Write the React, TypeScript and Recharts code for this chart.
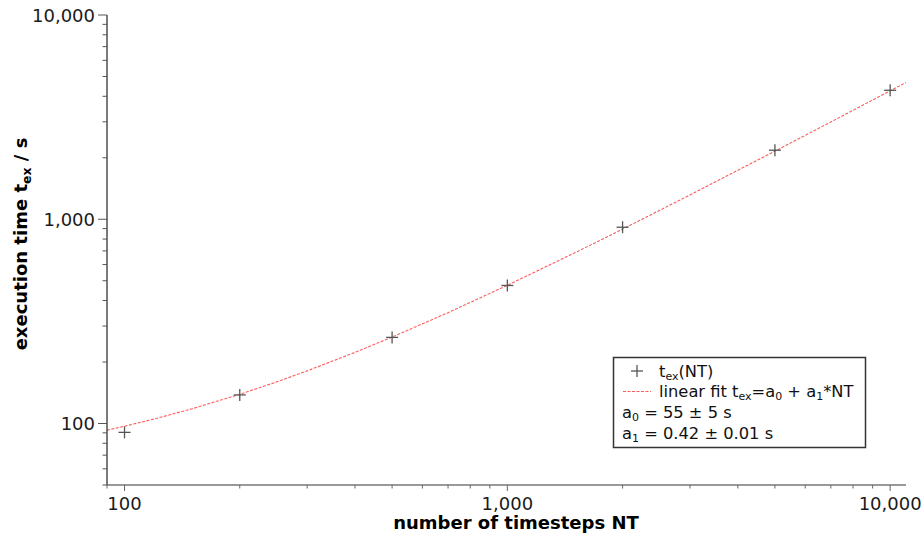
import React from "react";
import { ComposedChart, XAxis, YAxis, Line, Scatter } from "recharts";

// measured execution times t_ex(NT)
const measuredNT = [100, 200, 500, 1000, 2000, 5000, 10000];
const measuredT = [90.5, 138, 264, 474, 914, 2178, 4280];

// linear fit curve
const fitNT = [90, 100, 120, 150, 200, 250, 300, 400, 500, 700, 1000, 1500, 2000, 3000, 5000, 7000, 10000, 11000];
const fitT = [92.8, 97, 105.4, 118, 139, 160, 181, 223, 265, 349, 475, 685, 895, 1315, 2155, 2995, 4255, 4675];

const xTicks = [90, 100, 200, 300, 400, 500, 600, 700, 800, 900, 1000, 2000, 3000, 4000, 5000, 6000, 7000, 8000, 9000, 10000];
const yTicks = [50, 60, 70, 80, 90, 100, 200, 300, 400, 500, 600, 700, 800, 900, 1000, 2000, 3000, 4000, 5000, 6000, 7000, 8000, 9000, 10000];
const majorTicks = [100, 1000, 10000];

const measured = measuredNT.map((nt, i) => ({ nt, t: measuredT[i] }));
const fitData = fitNT.map((nt, i) => ({ nt, t: fitT[i] }));

const FONT = "'DejaVu Sans', sans-serif";
const fmt = (v: number) => v.toLocaleString("en-US");
const RED = "#ff5c5c";

const XTick = (props: any) => {
  const { x, y, payload } = props;
  const major = majorTicks.includes(payload.value);
  return (
    <g>
      <line x1={x} x2={x} y1={y} y2={y + (major ? 6 : 3.5)} stroke="#666" strokeWidth={1} />
      {major && (
        <text x={x} y={y + 25} textAnchor="middle" fontSize={18} fill="#1a1a1a" fontFamily={FONT}>
          {fmt(payload.value)}
        </text>
      )}
    </g>
  );
};

const YTick = (props: any) => {
  const { x, y, payload } = props;
  const major = majorTicks.includes(payload.value);
  return (
    <g>
      <line x1={x - (major ? 9 : 4.5)} x2={x} y1={y} y2={y} stroke="#555" strokeWidth={1} />
      {major && (
        <text x={x - 12} y={y + 6.5} textAnchor="end" fontSize={18} fill="#1a1a1a" fontFamily={FONT}>
          {fmt(payload.value)}
        </text>
      )}
    </g>
  );
};

const Cross = (props: any) => {
  const { cx, cy } = props;
  if (cx == null || cy == null) return <g />;
  return (
    <g>
      <line x1={cx - 6} x2={cx + 6} y1={cy} y2={cy} stroke="#555" strokeWidth={1.3} />
      <line x1={cx} x2={cx} y1={cy - 6} y2={cy + 6} stroke="#555" strokeWidth={1.3} />
    </g>
  );
};

const XLabel = () => (
  <text x={516} y={529} textAnchor="middle" fontSize={18} fontWeight="bold" fill="#000" fontFamily={FONT}>
    number of timesteps NT
  </text>
);

const YLabel = () => (
  <text
    x={0}
    y={0}
    transform="translate(27,244) rotate(-90)"
    textAnchor="middle"
    fontSize={18}
    fontWeight="bold"
    fill="#000"
    fontFamily={FONT}
  >
    execution time t<tspan fontSize={12.5} dy={4}>ex</tspan>
    <tspan dy={-4}> / s</tspan>
  </text>
);

const LFS = 16.3;
const SFS = 11;

const LegendBox = () => (
  <svg
    width={924}
    height={535}
    style={{ position: "absolute", left: 0, top: 0, pointerEvents: "none" }}
    fontFamily={FONT}
  >
    <rect x={613.5} y={357.5} width={252} height={90} fill="#fff" stroke="#333" strokeWidth={1.5} />
    <line x1={631} x2={643} y1={371} y2={371} stroke="#555" strokeWidth={1.3} />
    <line x1={637} x2={637} y1={365} y2={377} stroke="#555" strokeWidth={1.3} />
    <text x={659} y={377} fontSize={LFS} fill="#111">
      t<tspan fontSize={SFS} dy={3}>ex</tspan>
      <tspan dy={-3}>(NT)</tspan>
    </text>
    <line x1={623} x2={651} y1={391.5} y2={391.5} stroke={RED} strokeWidth={1} strokeDasharray="3 1.5" />
    <text x={659} y={397} fontSize={LFS} fill="#111">
      linear fit t<tspan fontSize={SFS} dy={3}>ex</tspan>
      <tspan dy={-3}>=a</tspan>
      <tspan fontSize={SFS} dy={3}>0</tspan>
      <tspan dy={-3}> + a</tspan>
      <tspan fontSize={SFS} dy={3}>1</tspan>
      <tspan dy={-3}>*NT</tspan>
    </text>
    <text x={622} y={418} fontSize={LFS} fill="#111">
      a<tspan fontSize={SFS} dy={3}>0</tspan>
      <tspan dy={-3}> = 55 ± 5 s</tspan>
    </text>
    <text x={622} y={439} fontSize={LFS} fill="#111">
      a<tspan fontSize={SFS} dy={3}>1</tspan>
      <tspan dy={-3}> = 0.42 ± 0.01 s</tspan>
    </text>
  </svg>
);

export default function App() {
  return (
    <div style={{ position: "absolute", left: 0, top: 0, width: 924, height: 535, background: "#fff" }}>
      <ComposedChart width={924} height={535} margin={{ top: 15, right: 18, left: 0, bottom: 0 }}>
        <XAxis
          type="number"
          dataKey="nt"
          scale="log"
          domain={[90, 11000]}
          allowDataOverflow
          ticks={xTicks}
          interval={0}
          tickSize={0}
          tickMargin={0}
          tickLine={false}
          tick={<XTick />}
          height={50}
          axisLine={{ stroke: "#777", strokeWidth: 1.5 }}
          label={<XLabel />}
        />
        <YAxis
          type="number"
          dataKey="t"
          scale="log"
          domain={[50, 10000]}
          allowDataOverflow
          ticks={yTicks}
          interval={0}
          tickSize={0}
          tickMargin={0}
          tickLine={false}
          tick={<YTick />}
          width={107}
          axisLine={{ stroke: "#333", strokeWidth: 1.3 }}
          label={<YLabel />}
        />
        <Line
          data={fitData}
          dataKey="t"
          type="linear"
          stroke={RED}
          strokeWidth={1.1}
          strokeDasharray="3 1.5"
          dot={false}
          activeDot={false}
          isAnimationActive={false}
        />
        <Scatter data={measured} dataKey="t" shape={<Cross />} isAnimationActive={false} />
      </ComposedChart>
      <LegendBox />
    </div>
  );
}
